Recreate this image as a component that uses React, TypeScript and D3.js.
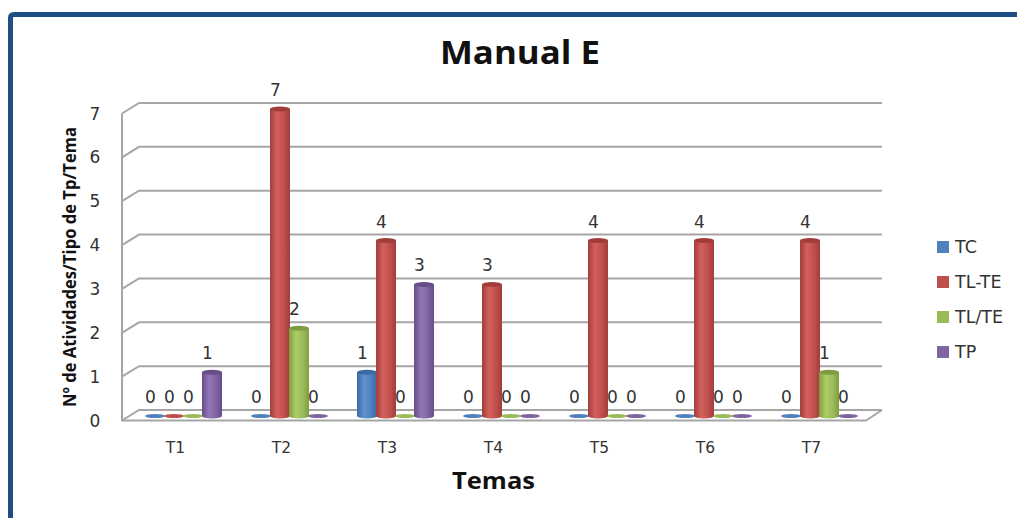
import React from "react";
import * as d3 from "d3";

const categories = ["T1", "T2", "T3", "T4", "T5", "T6", "T7"];
const seriesNames = ["TC", "TL-TE", "TL/TE", "TP"];
const TC = [0, 0, 1, 0, 0, 0, 0];
const TLTE = [0, 7, 4, 3, 4, 4, 4];
const TLSlashTE = [0, 2, 0, 0, 0, 0, 1];
const TP = [1, 0, 3, 0, 0, 0, 0];
const seriesValues = [TC, TLTE, TLSlashTE, TP];
const yTicks = [0, 1, 2, 3, 4, 5, 6, 7];
const colors = ["#4F81BD", "#C0504D", "#9BBB59", "#8064A2"];
const darks = ["#3a6aa3", "#a03d3b", "#7f9c42", "#674d88"];
const lights = ["#5f94d2", "#d4605c", "#aecd66", "#9276b6"];

const FONT = "'Open Sans', sans-serif";
const LABEL_FONT = "'DejaVu Sans', sans-serif";
const W = 1017, H = 518;

export default function App() {
  const yBar = d3.scaleLinear().domain([0, 7]).range([416, 109]);
  const yBack = d3.scaleLinear().domain([0, 7]).range([410, 103]);
  const yFront = d3.scaleLinear().domain([0, 7]).range([420.5, 113.5]);
  const xCat = d3.scaleBand().domain(categories).range([130.5, 872.5]);
  const xSer = d3.scaleBand().domain(seriesNames.map(String)).range([-38, 38]);
  const grey = "#a6a6a6";
  const left = 122, backLeft = 139, right = 882, frontRight = 866;
  const rx = 10, ry = 2.5;
  return (
    <svg width={W} height={H} style={{ position: "absolute", left: 0, top: 0, background: "#fff" }} fontFamily={LABEL_FONT}>
      <defs>
        {colors.map((c, i) => (
          <linearGradient key={c} id={`g${i}`} x1="0" x2="1" y1="0" y2="0">
            <stop offset="0" stopColor={darks[i]} />
            <stop offset="0.35" stopColor={lights[i]} />
            <stop offset="0.7" stopColor={c} />
            <stop offset="1" stopColor={darks[i]} />
          </linearGradient>
        ))}
      </defs>
      <path d={`M1017 14.5H14Q10.5 14.5 10.5 18V518`} fill="none" stroke="#1F4E84" strokeWidth={5} />
      <text x={440} y={64} textLength={160} lengthAdjust="spacingAndGlyphs" fontFamily={FONT} fontSize={32} fontWeight={700} fill="#111">Manual E</text>

      {yTicks.map((t) => (
        <g key={t}>
          <path d={`M${left} ${yFront(t)}L${backLeft} ${yBack(t)}H${right}`} fill="none" stroke={grey} strokeWidth={2} />
          <text x={95} y={yFront(t) + 6} textAnchor="middle" fontSize={17} fill="#333">{t}</text>
        </g>
      ))}
      <path d={`M${left} ${yFront(7)}V${yFront(0)}H${frontRight}L${right} ${yBack(0)}`} fill="none" stroke={grey} strokeWidth={2} />

      {categories.map((cat, ci) => (
        <g key={cat}>
          {seriesNames.map((s, si) => {
            const v = seriesValues[si][ci];
            const cx = xCat(cat)! + xCat.bandwidth() / 2 + xSer(s)! + xSer.bandwidth() / 2;
            const y0 = yBar(0), y1 = yBar(v);
            if (v === 0) {
              return <ellipse key={s} cx={cx} cy={y0} rx={rx} ry={ry - 0.5} fill={colors[si]} />;
            }
            return (
              <g key={s}>
                <path d={`M${cx - rx} ${y1}V${y0}A${rx} ${ry} 0 0 0 ${cx + rx} ${y0}V${y1}Z`} fill={`url(#g${si})`} />
                <ellipse cx={cx} cy={y1} rx={rx} ry={ry} fill={darks[si]} />
              </g>
            );
          })}
        </g>
      ))}
      {categories.map((cat) => (
        <text key={cat} x={xCat(cat)! + xCat.bandwidth() / 2 - 8} y={453} textAnchor="middle" fontSize={15.5} fill="#333">{cat}</text>
      ))}
      {categories.map((cat, ci) =>
        seriesNames.map((s, si) => {
          const v = seriesValues[si][ci];
          const cx = xCat(cat)! + xCat.bandwidth() / 2 + xSer(s)! + xSer.bandwidth() / 2;
          return (
            <text key={cat + s} x={cx - 4.5} y={yBar(v) - 13} textAnchor="middle" fontSize={17} fill="#333">{v}</text>
          );
        })
      )}

      <text transform="translate(76,407) rotate(-90)" textLength={280} lengthAdjust="spacingAndGlyphs" fontFamily={FONT} fontSize={17} fontWeight={700} fill="#111">Nº de Atividades/Tipo de Tp/Tema</text>
      <text x={452} y={489} textLength={83} lengthAdjust="spacingAndGlyphs" fontFamily={FONT} fontSize={23} fontWeight={700} fill="#111">Temas</text>

      {seriesNames.map((s, i) => {
        const ly = d3.scalePoint().domain(seriesNames).range([247, 352])(s)!;
        return (
          <g key={s}>
            <rect x={937} y={ly - 6} width={12} height={12} fill={colors[i]} />
            <text x={955} y={ly + 6} fontSize={17.5} fill="#333">{s}</text>
          </g>
        );
      })}
    </svg>
  );
}
